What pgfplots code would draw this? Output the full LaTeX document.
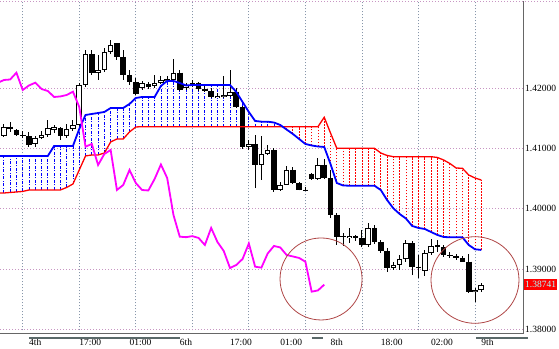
\documentclass[border=0pt]{standalone}
\usepackage{pgfplots}
\pgfplotsset{compat=1.18}
\usepackage{pgfplotstable}
\usepackage{fontspec}
\setmainfont{Liberation Serif}
\definecolor{vgrid}{RGB}{135,150,170}
\definecolor{hgrid}{RGB}{200,150,195}
\definecolor{circ}{RGB}{175,70,70}
\definecolor{sepbar}{RGB}{90,105,105}
\definecolor{boxtxt}{RGB}{170,255,255}
\definecolor{chik}{RGB}{255,0,255}
\definecolor{kumoB}{RGB}{0,0,255}
\definecolor{kumoR}{RGB}{255,0,0}

\pgfplotstableread{
k O H L C
-3 1.41209 1.41408 1.41192 1.41363
-2 1.41363 1.41441 1.41280 1.41320
-1 1.41308 1.41325 1.41209 1.41225
0 1.41225 1.41292 1.41175 1.41208
1 1.41208 1.41275 1.41031 1.41059
2 1.41076 1.41209 1.41026 1.41170
3 1.41170 1.41292 1.41159 1.41225
4 1.41225 1.41474 1.41192 1.41341
5 1.41316 1.41391 1.41258 1.41358
6 1.41341 1.41358 1.41142 1.41209
7 1.41209 1.41408 1.41175 1.41325
8 1.41325 1.41474 1.41292 1.41391
9 1.41391 1.42088 1.41308 1.42055
10 1.42055 1.42636 1.42022 1.42569
11 1.42569 1.42636 1.42221 1.42254
12 1.42254 1.42553 1.42138 1.42304
13 1.42304 1.42669 1.42271 1.42603
14 1.42603 1.42802 1.42569 1.42719
15 1.42752 1.42752 1.42470 1.42520
16 1.42520 1.42636 1.42138 1.42221
17 1.42221 1.42304 1.42055 1.42105
18 1.42105 1.42171 1.41889 1.41906
19 1.42005 1.42122 1.41972 1.42088
20 1.42072 1.42105 1.41988 1.42022
21 1.42039 1.42221 1.42005 1.42088
22 1.42088 1.42205 1.42072 1.42138
23 1.42113 1.42205 1.42105 1.42146
24 1.42138 1.42486 1.42122 1.42259
25 1.42259 1.42304 1.41955 1.41972
26 1.42013 1.42088 1.41972 1.42047
27 1.42047 1.42138 1.42022 1.42093
28 1.42093 1.42105 1.41955 1.41988
29 1.41988 1.42039 1.41939 1.41955
30 1.41955 1.42005 1.41839 1.41856
31 1.41840 1.41922 1.41831 1.41865
32 1.41856 1.42205 1.41839 1.41889
33 1.41873 1.42304 1.41856 1.41944
34 1.41944 1.42005 1.41673 1.41690
35 1.41690 1.41707 1.40993 1.41031
36 1.41031 1.41142 1.40976 1.41076
37 1.41076 1.41225 1.40345 1.40727
38 1.40727 1.41209 1.40478 1.40910
39 1.40910 1.41059 1.40893 1.40976
40 1.40976 1.41009 1.40279 1.40312
41 1.40312 1.40445 1.40296 1.40395
42 1.40395 1.40710 1.40395 1.40644
43 1.40644 1.40694 1.40412 1.40428
44 1.40428 1.40445 1.40304 1.40312
45 1.40320 1.40362 1.40296 1.40304
46 1.40578 1.40594 1.40478 1.40495
47 1.40495 1.40843 1.40478 1.40735
48 1.40735 1.40827 1.40495 1.40511
49 1.40511 1.40644 1.39847 1.39897
50 1.39897 1.39930 1.39399 1.39537
51 1.39546 1.39599 1.39383 1.39529
52 1.39520 1.39682 1.39433 1.39546
53 1.39546 1.39566 1.39466 1.39516
54 1.39516 1.39648 1.39366 1.39399
55 1.39399 1.39765 1.39366 1.39682
56 1.39682 1.39731 1.39416 1.39449
57 1.39449 1.39483 1.39267 1.39300
58 1.39300 1.39349 1.38951 1.39017
59 1.39017 1.39117 1.38984 1.39067
60 1.39067 1.39234 1.38984 1.39167
61 1.39167 1.39483 1.39117 1.39424
62 1.39424 1.39466 1.38901 1.39039
63 1.39039 1.39234 1.38851 1.39023
64 1.38968 1.39317 1.38885 1.39258
65 1.39258 1.39499 1.39234 1.39383
66 1.39399 1.39483 1.39283 1.39358
67 1.39358 1.39399 1.39200 1.39234
68 1.39234 1.39283 1.39184 1.39209
69 1.39209 1.39250 1.39151 1.39184
70 1.39184 1.39217 1.39117 1.39122
71 1.39122 1.39250 1.38603 1.38624
72 1.38612 1.38685 1.38453 1.38645
73 1.38645 1.38768 1.38619 1.38741
}\candles

\pgfplotstableread{
k blue red
-4 1.40877 1.40262
-3 1.40877 1.40262
-2 1.40877 1.40271
-1 1.40877 1.40279
0 1.40877 1.40288
1 1.40877 1.40312
2 1.40877 1.40312
3 1.40877 1.40312
4 1.40877 1.40312
5 1.41043 1.40312
6 1.41043 1.40312
7 1.41043 1.40354
8 1.41043 1.40412
9 1.41325 1.40644
10 1.41557 1.40877
11 1.41574 1.40893
12 1.41590 1.40893
13 1.41607 1.40926
14 1.41673 1.41109
15 1.41673 1.41159
16 1.41673 1.41159
17 1.41740 1.41275
18 1.41839 1.41358
19 1.41856 1.41363
20 1.41856 1.41363
21 1.41856 1.41363
22 1.42039 1.41363
23 1.42122 1.41363
24 1.42122 1.41363
25 1.42088 1.41363
26 1.42047 1.41363
27 1.42055 1.41363
28 1.42055 1.41363
29 1.42055 1.41363
30 1.42055 1.41363
31 1.42055 1.41363
32 1.42055 1.41363
33 1.42055 1.41363
34 1.41939 1.41363
35 1.41773 1.41363
36 1.41607 1.41363
37 1.41458 1.41363
38 1.41446 1.41363
39 1.41446 1.41363
40 1.41432 1.41363
41 1.41391 1.41363
42 1.41316 1.41363
43 1.41242 1.41363
44 1.41159 1.41363
45 1.41076 1.41363
46 1.41051 1.41363
47 1.41034 1.41363
48 1.41026 1.41519
49 1.40743 1.41258
50 1.40428 1.41004
51 1.40387 1.41004
52 1.40383 1.41004
53 1.40383 1.41004
54 1.40383 1.41004
55 1.40383 1.41004
56 1.40383 1.41004
57 1.40312 1.40926
58 1.40146 1.40885
59 1.40008 1.40865
60 1.39914 1.40865
61 1.39839 1.40865
62 1.39715 1.40865
63 1.39682 1.40865
64 1.39665 1.40865
65 1.39615 1.40865
66 1.39566 1.40852
67 1.39532 1.40810
68 1.39527 1.40752
69 1.39527 1.40677
70 1.39527 1.40672
71 1.39399 1.40561
72 1.39328 1.40511
73 1.39317 1.40478
}\ichi

\begin{document}
\begin{tikzpicture}
\begin{axis}[
  scale only axis, width=523.3bp, height=332.5bp,
  xmin=-3.614, xmax=79.69, ymin=1.37930, ymax=1.43449,
  axis x line=bottom, axis y line=right,
  axis line style={-, draw=black!60, line width=0.9bp},
  clip mode=individual,
  major tick length=0pt,
  xtick={0,9,...,72}, xticklabels={},
  ytick={1.38,1.39,1.40,1.41,1.42},
  grid=major,
  major x grid style={vgrid, line width=0.8bp, dash pattern=on 1bp off 2bp},
  major y grid style={hgrid, line width=0.8bp, dash pattern=on 1bp off 2bp},
  tick label style={font=\fontsize{9.5bp}{11bp}\selectfont, text=black},
  yticklabel style={anchor=west, inner sep=0pt, xshift=1.7bp,
    /pgf/number format/fixed, /pgf/number format/fixed zerofill,
    /pgf/number format/precision=5, /pgf/number format/assume math mode=true},
  extra x ticks={1,9,17,25,33,41,49,57,65,73},
  extra x tick labels={4th,17:00,01:00,6th,17:00,01:00,8th,18:00,02:00,9th},
  extra x tick style={grid=none, xticklabel style={anchor=north west, inner sep=0pt, yshift=-5.5bp}},
  extra y ticks={1.38741},
  extra y tick style={grid=none, yticklabel style={fill=kumoR, text=boxtxt, inner xsep=1bp, inner ysep=2.2bp, xshift=-1bp}},
]
% cloud hatching
\addplot[quiver={u=0, v=\thisrow{blue}-\thisrow{red}}, -, kumoB, line width=0.8bp,
  dash pattern=on 3bp off 1.5bp on 1bp off 1.5bp,
  restrict expr to domain={\thisrow{blue}-\thisrow{red}}{0:1}] table[x=k, y=red] {\ichi};
\addplot[quiver={u=0, v=\thisrow{red}-\thisrow{blue}}, -, kumoR, line width=0.8bp,
  dash pattern=on 1.5bp off 1.5bp,
  restrict expr to domain={\thisrow{blue}-\thisrow{red}}{-1:0}] table[x=k, y=blue] {\ichi};
% candles: wicks, bodies
\addplot[quiver={u=0, v=\thisrow{H}-\thisrow{L}}, -, black, line width=1bp] table[x=k, y=L] {\candles};
\addplot[quiver={u=0, v=\thisrow{C}-\thisrow{O}}, -, black, line width=5.6bp] table[x=k, y=O] {\candles};
\addplot[quiver={u=0, v=\thisrow{C}-\thisrow{O}-0.000332}, -, white, line width=3.6bp,
  restrict expr to domain={\thisrow{C}-\thisrow{O}}{0:1}] table[x=k, y expr=\thisrow{O}+0.000166] {\candles};
% ichimoku lines
\addplot[kumoR, line width=1.3bp] table[x=k, y=red] {\ichi};
\addplot[kumoB, line width=1.8bp] table[x=k, y=blue] {\ichi};
\addplot[chik, line width=1.8bp] table[x expr=\thisrow{k}-25, y=C] {\candles};
% annotations
\draw[circ, line width=0.8bp] (axis cs:47.49,1.38835) circle[radius=41bp];
\draw[circ, line width=0.8bp] (axis cs:72.0,1.38818) circle[x radius=44bp, y radius=43.3bp];
\draw[sepbar, line width=2.3bp] (axis cs:1.0,1.37860) -- (axis cs:25.04,1.37860);
\draw[sepbar, line width=2.3bp] (axis cs:46.05,1.37860) -- (axis cs:47.8,1.37860);
\draw[sepbar, line width=2.3bp] (axis cs:72.16,1.37860) -- (axis cs:80.44,1.37860);
\draw[hgrid, line width=0.8bp, dash pattern=on 1bp off 2bp] (rel axis cs:0,1) -- ([xshift=36bp]rel axis cs:1,1);
\coordinate (TL) at (rel axis cs:0,1);
\coordinate (BR) at (rel axis cs:1,0);
\end{axis}
\pgfresetboundingbox
\useasboundingbox ([yshift=1bp]TL) rectangle ([xshift=35.7bp,yshift=-15.5bp]BR);
\end{tikzpicture}
\end{document}
